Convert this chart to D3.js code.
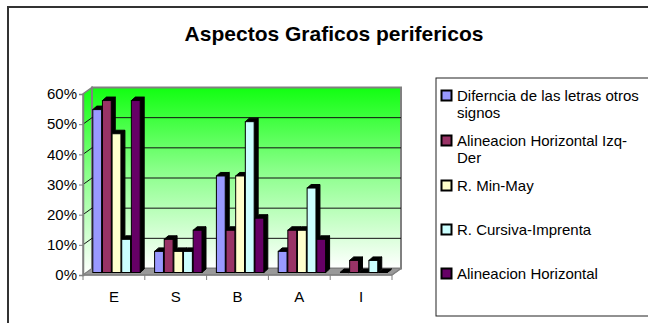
<!DOCTYPE html>
<html>
<head>
<meta charset="utf-8">
<script src="https://cdn.jsdelivr.net/npm/d3@7"></script>
<style>
  html, body { margin: 0; padding: 0; background: #fff; }
  svg { display: block; font-family: "Liberation Sans", Arial, sans-serif; }
</style>
</head>
<body>
<svg id="chart" width="648" height="323"></svg>
<script>
// ---- data ----
const categories = ["E", "S", "B", "A", "I"];
const seriesNames = [
  "Diferncia de las letras otros signos",
  "Alineacion Horizontal Izq-Der",
  "R. Min-May",
  "R. Cursiva-Imprenta",
  "Alineacion Horizontal"
];
const legendLines = [
  ["Diferncia de las letras otros", "signos"],
  ["Alineacion Horizontal Izq-", "Der"],
  ["R. Min-May"],
  ["R. Cursiva-Imprenta"],
  ["Alineacion Horizontal"]
];
const serDiferencia = [54, 7, 32, 7, 0];
const serAlinIzqDer = [57, 11, 14, 14, 4];
const serMinMay     = [46, 7, 32, 14, 0];
const serCursiva    = [11, 7, 50, 28, 4];
const serAlinHoriz  = [57, 14, 18, 11, 0];
const seriesValues = [serDiferencia, serAlinIzqDer, serMinMay, serCursiva, serAlinHoriz];
const yTicks = [0, 10, 20, 30, 40, 50, 60];
const colors = ["#9999FF", "#993366", "#FFFFCC", "#CCFFFF", "#660066"];

(function () {
// ---- layout ----
const svg = d3.select("#chart");
const pLeft = 83, pRight = 392, pBottom = 275, pTop = 94;
const wdx = 9, wdy = 6.5;      // wall depth offset
const bdx = 4, bdy = 3.5;      // bar depth
const box = 3, boy = -2.5;     // bar front-plane offset

const x0 = d3.scaleBand().domain(categories).range([pLeft, pRight]).paddingInner(0).paddingOuter(0);
const x1 = d3.scaleBand().domain(d3.range(seriesNames.length))
  .range([x0.bandwidth() * 0.11, x0.bandwidth() * 0.89]).padding(0);
const y = d3.scaleLinear().domain([0, 60]).range([pBottom, pTop]);

// frame
svg.append("rect").attr("x", 8).attr("y", 7).attr("width", 700).attr("height", 400)
  .attr("fill", "none").attr("stroke", "#333").attr("stroke-width", 2);

// title
svg.append("text").attr("x", 334).attr("y", 41).attr("text-anchor", "middle")
  .attr("font-size", 21).attr("font-weight", "bold").text("Aspectos Graficos perifericos");

// gradient
const defs = svg.append("defs");
const g1 = defs.append("linearGradient").attr("id", "wall").attr("x1", 0).attr("y1", 0).attr("x2", 0).attr("y2", 1);
g1.append("stop").attr("offset", "0%").attr("stop-color", "#11ff11");
g1.append("stop").attr("offset", "45%").attr("stop-color", "#88ff88");
g1.append("stop").attr("offset", "100%").attr("stop-color", "#ffffff");

const yTop = y(60), yBot = y(0);
// left wall
svg.append("polygon")
  .attr("points", [[pLeft, yBot], [pLeft, yTop], [pLeft + wdx, yTop - wdy], [pLeft + wdx, yBot - wdy]].join(" "))
  .attr("fill", "url(#wall)").attr("stroke", "#808080").attr("stroke-width", 1.5);
// back wall
svg.append("rect").attr("x", pLeft + wdx).attr("y", yTop - wdy)
  .attr("width", pRight - pLeft).attr("height", yBot - yTop)
  .attr("fill", "url(#wall)").attr("stroke", "#808080").attr("stroke-width", 2);
// floor
svg.append("polygon")
  .attr("points", [[pLeft, yBot], [pRight, yBot], [pRight + wdx, yBot - wdy], [pLeft + wdx, yBot - wdy]].join(" "))
  .attr("fill", "#999").attr("stroke", "#808080").attr("stroke-width", 1);

// gridlines
yTicks.filter(t => t > 0 && t < 60).forEach(t => {
  svg.append("line").attr("x1", pLeft + wdx).attr("x2", pRight + wdx)
    .attr("y1", y(t) - wdy).attr("y2", y(t) - wdy).attr("stroke", "#111").attr("stroke-width", 1);
  svg.append("line").attr("x1", pLeft).attr("x2", pLeft + wdx)
    .attr("y1", y(t)).attr("y2", y(t) - wdy).attr("stroke", "#111").attr("stroke-width", 1);
});

// bars
categories.forEach((c, ci) => {
  seriesValues.forEach((vals, si) => {
    const v = vals[ci];
    const bx = x0(c) + x1(si) + box;
    const w = x1.bandwidth() - 0.8;
    const yt = y(v) + boy, yb = y(0) + boy;
    const g = svg.append("g");
    g.append("polygon")
      .attr("points", [[bx + w, yt], [bx + w + bdx, yt - bdy], [bx + w + bdx, yb - bdy], [bx + w, yb]].join(" "))
      .attr("fill", "#000").attr("stroke", "#000").attr("stroke-width", 1);
    g.append("polygon")
      .attr("points", [[bx, yt], [bx + bdx, yt - bdy], [bx + w + bdx, yt - bdy], [bx + w, yt]].join(" "))
      .attr("fill", "#000").attr("stroke", "#000").attr("stroke-width", 1);
    if (v > 0) {
      g.append("rect").attr("x", bx).attr("y", yt).attr("width", w).attr("height", yb - yt)
        .attr("fill", colors[si]).attr("stroke", "#000").attr("stroke-width", 1);
    }
  });
});

// axes
const yAxis = d3.axisLeft(y).tickValues(yTicks).tickFormat(d => d + "%").tickSize(4).tickPadding(2);
const ya = svg.append("g").attr("transform", `translate(${pLeft},0)`).call(yAxis);
ya.select(".domain").attr("stroke", "#808080").attr("stroke-width", 1.5);
ya.selectAll(".tick line").attr("stroke", "#808080");
ya.selectAll("text").attr("font-size", 15).attr("fill", "#000")
  .attr("font-family", "Liberation Sans, Arial, sans-serif");

const xa = svg.append("g").attr("transform", `translate(0,${pBottom})`);
xa.append("line").attr("x1", pLeft).attr("x2", pRight).attr("stroke", "#808080").attr("stroke-width", 1.5);
xa.append("line").attr("x1", pRight).attr("y1", 0).attr("x2", pRight + wdx).attr("y2", -wdy)
  .attr("stroke", "#808080").attr("stroke-width", 1.5);
categories.forEach((c, i) => {
  xa.append("line").attr("x1", x0(c)).attr("x2", x0(c)).attr("y1", 0).attr("y2", 5).attr("stroke", "#808080");
  if (i === categories.length - 1)
    xa.append("line").attr("x1", x0(c) + x0.bandwidth()).attr("x2", x0(c) + x0.bandwidth())
      .attr("y1", 0).attr("y2", 5).attr("stroke", "#808080");
  xa.append("text").attr("x", x0(c) + x0.bandwidth() / 2).attr("y", 27)
    .attr("text-anchor", "middle").attr("font-size", 15).text(c);
});

// legend
svg.append("rect").attr("x", 436).attr("y", 78).attr("width", 300).attr("height", 238)
  .attr("fill", "#fff").attr("stroke", "#222").attr("stroke-width", 1);
const legendY = [96, 141, 186, 230, 274];
legendLines.forEach((lines, i) => {
  const ly = legendY[i];
  svg.append("rect").attr("x", 441.5).attr("y", ly - 5.5).attr("width", 10).attr("height", 10)
    .attr("fill", colors[i]).attr("stroke", "#000").attr("stroke-width", 2);
  lines.forEach((t, k) => {
    svg.append("text").attr("x", 457).attr("y", ly + 5 + k * 17)
      .attr("font-size", 15).text(t);
  });
});
})();
</script>
</body>
</html>
